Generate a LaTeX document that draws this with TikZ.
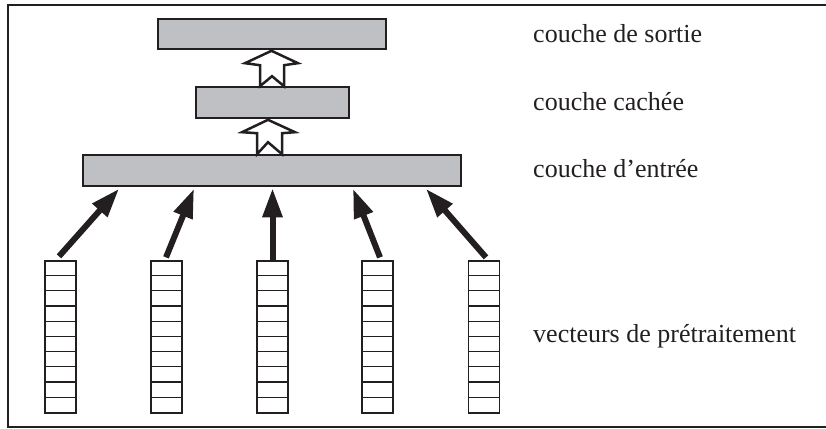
\documentclass[tikz,border=0pt]{standalone}
\usepackage{fontspec}
\setmainfont{Liberation Serif}
\usetikzlibrary{calc,arrows.meta}
\definecolor{boxgray}{RGB}{191,192,196}
\definecolor{inkdark}{RGB}{35,31,32}
\tikzset{
  layerbox/.style={draw=inkdark,line width=1.6pt,fill=boxgray,minimum height=30pt,inner sep=0pt},
  vecbox/.style={draw=inkdark,line width=1.3pt,minimum width=31pt,minimum height=152pt,inner sep=0pt},
  cellline/.style={draw=inkdark,line width=1.3pt},
  hollow/.style={draw=inkdark,line width=2.5pt,fill=white,line join=miter},
  feed/.style={draw=inkdark,line width=6pt,-{Triangle[length=29pt,width=19pt]}},
  lbl/.style={anchor=base west,inner sep=0pt,font=\fontsize{26}{30}\selectfont,text=inkdark}
}
\begin{document}
\begin{tikzpicture}[x=1pt,y=-1pt]
\useasboundingbox (0,0) rectangle (826,428);
\draw[inkdark,line width=1.6pt] (832,5) -- (8,5) -- (8,427) -- (832,427);
% layers
\node[layerbox,minimum width=228pt] (top) at (272,34) {};
\node[layerbox,minimum width=153pt,minimum height=31pt] (hid) at (272.5,102.5) {};
\node[layerbox,minimum width=378pt,minimum height=31pt] (inp) at (272,170.5) {};
% hollow arrows (notched tail)
\draw[hollow] ($(hid.north)+(-12.5,0)$) -- ++(0,-21) -- ++(-15,-2)
  -- ($(top.south)+(-0.5,1)$) -- ($(hid.north)+(25.5,-23)$) -- ++(-14,2)
  -- ($(hid.north)+(11.5,0)$) -- ($(hid.north)+(-0.5,-10)$) -- cycle;
\draw[hollow] ($(inp.north)+(-15,0)$) -- ++(0,-21) -- ++(-15,-1)
  -- ($(hid.south)+(-4.5,1)$) -- ($(inp.north)+(23,-22)$) -- ++(-13,1)
  -- ($(inp.north)+(10,0)$) -- ($(inp.north)+(-4,-12)$) -- cycle;
% vectors
\foreach \i/\x in {1/60.5,2/166.5,3/272.5,4/377.5,5/484}{
  \node[vecbox] (v\i) at (\x,337) {};
  \foreach \k in {1,...,9}{
    \draw[cellline] ($(v\i.north west)+(0,15.2*\k)$) -- ($(v\i.north east)+(0,15.2*\k)$);
  }
}
% feed arrows
\draw[feed] ($(v1.north)+(-1.5,-4)$) -- ($(inp.south)+(-153,2)$);
\draw[feed] ($(v2.north)+(-0.5,-3)$) -- ($(inp.south)+(-78,2)$);
\draw[feed] ($(v3.north)+(0,0)$) -- ($(inp.south)+(0.5,1.5)$);
\draw[feed] ($(v4.north)+(2.5,-3)$) -- ($(inp.south)+(81,2)$);
\draw[feed] ($(v5.north)+(2,-3)$) -- ($(inp.south)+(154,2)$);
% labels
\node[lbl] (l1) at (533,42) {couche de sortie};
\node[lbl] (l2) at (533,110) {couche cachée};
\node[lbl] (l3) at (533,177) {couche d’entrée};
\node[lbl] (l4) at (533,342) {vecteurs de prétraitement};
\end{tikzpicture}
\end{document}
